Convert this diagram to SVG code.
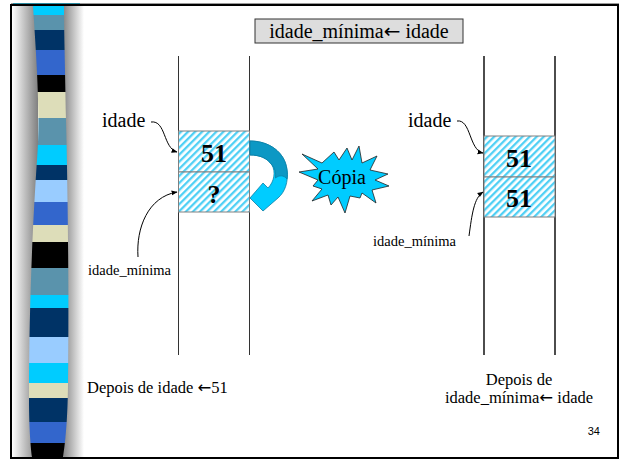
<svg xmlns="http://www.w3.org/2000/svg" width="620" height="461" viewBox="0 0 620 461">
<defs>
<style>
.serif{font-family:"Liberation Serif","Times New Roman",serif;fill:#000}
.arr{font-family:"DejaVu Sans",sans-serif;font-weight:normal}
.lbl{font-size:20px}
.small{font-size:14.5px}
.val{font-size:26px;font-weight:bold;text-anchor:middle}
.bot{font-size:16.5px}
.cell{fill:url(#hatch);stroke:#808080;stroke-width:1}
.conn{fill:none;stroke:#000;stroke-width:1;marker-end:url(#ah)}
.vl{stroke:#333;stroke-width:1}
.vr{stroke:#000;stroke-width:1.4}
</style>
<pattern id="hatch" patternUnits="userSpaceOnUse" width="5" height="5" patternTransform="rotate(45)">
<rect width="5" height="5" fill="#fff"/>
<rect width="2.3" height="5" fill="#4FD0F5"/>
</pattern>
<marker id="ah" viewBox="0 0 10 10" refX="9" refY="5" markerWidth="6" markerHeight="6" orient="auto">
<path d="M0,1 L10,5 L0,9 Z" fill="#000"/>
</marker>
<linearGradient id="shL" x1="0" y1="0" x2="1" y2="0">
<stop offset="0" stop-color="#fff"/>
<stop offset="1" stop-color="#808080"/>
</linearGradient>
<linearGradient id="shR" x1="0" y1="0" x2="1" y2="0">
<stop offset="0" stop-color="#808080"/>
<stop offset="1" stop-color="#fff"/>
</linearGradient>
<clipPath id="barClip">
<path d="M33,6 C38,80 40,120 37,160 C33,220 29,300 29,400 C29,430 31,450 32,457 L63,457 C66,440 68,410 68,380 C69,300 68,200 66,120 C65,60 64,30 64,6 Z"/>
</clipPath>
</defs>
<rect width="620" height="461" fill="#fff"/>

<g id="side-bar">
<rect x="12" y="6" width="26" height="452" fill="url(#shL)"/>
<rect x="62" y="6" width="22" height="452" fill="url(#shR)"/>
<g clip-path="url(#barClip)">
<rect x="20" y="5" width="60" height="10" fill="#00CCFF"/>
<rect x="20" y="15" width="60" height="15" fill="#5A93AC"/>
<rect x="20" y="30" width="60" height="20" fill="#003366"/>
<rect x="20" y="50" width="60" height="25" fill="#3366CC"/>
<rect x="20" y="75" width="60" height="17" fill="#000"/>
<rect x="20" y="92" width="60" height="26" fill="#DDDDB9"/>
<rect x="20" y="118" width="60" height="27" fill="#5A93AC"/>
<rect x="20" y="145" width="60" height="20" fill="#00CCFF"/>
<rect x="20" y="165" width="60" height="15" fill="#003366"/>
<rect x="20" y="180" width="60" height="22" fill="#99CCFF"/>
<rect x="20" y="202" width="60" height="23" fill="#3366CC"/>
<rect x="20" y="225" width="60" height="17" fill="#DDDDB9"/>
<rect x="20" y="242" width="60" height="26" fill="#000"/>
<rect x="20" y="268" width="60" height="27" fill="#5A93AC"/>
<rect x="20" y="295" width="60" height="13" fill="#00CCFF"/>
<rect x="20" y="308" width="60" height="29" fill="#003366"/>
<rect x="20" y="337" width="60" height="26" fill="#99CCFF"/>
<rect x="20" y="363" width="60" height="20" fill="#00CCFF"/>
<rect x="20" y="383" width="60" height="15" fill="#DDDDB9"/>
<rect x="20" y="398" width="60" height="24" fill="#003366"/>
<rect x="20" y="422" width="60" height="21" fill="#3366CC"/>
<rect x="20" y="443" width="60" height="16" fill="#000"/>
</g>
</g>

<g id="frame">
<line x1="11" y1="3.5" x2="619" y2="3.5" stroke="#999" stroke-width="1"/>
<line x1="13" y1="3.5" x2="80" y2="3.5" stroke="#2a8aa0" stroke-width="1"/>
<rect x="11" y="5" width="607" height="453" fill="none" stroke="#000" stroke-width="2"/>
</g>

<g id="title">
<rect x="255" y="19" width="208" height="24" fill="#DDDDDD" stroke="#333" stroke-width="1"/>
<text class="serif lbl" x="359" y="38" text-anchor="middle">idade_mínima<tspan class="arr">←</tspan> idade</text>
</g>

<g id="memory-left">
<line class="vl" x1="178.5" y1="56" x2="178.5" y2="355"/>
<line class="vl" x1="249.5" y1="56" x2="249.5" y2="355"/>
</g>
<g id="memory-right">
<line class="vr" x1="484" y1="56" x2="484" y2="355"/>
<line class="vr" x1="555" y1="56" x2="555" y2="355"/>
</g>

<g id="cell-left-idade">
<rect class="cell" x="178.5" y="131" width="71" height="41"/>
<text class="serif val" x="214" y="162">51</text>
</g>
<g id="cell-left-idade-minima">
<rect class="cell" x="178.5" y="172" width="71" height="40"/>
<text class="serif val" x="214" y="203">?</text>
</g>
<g id="cell-right-idade">
<rect class="cell" x="484" y="136" width="71" height="41"/>
<text class="serif val" x="519" y="167">51</text>
</g>
<g id="cell-right-idade-minima">
<rect class="cell" x="484" y="177" width="71" height="40"/>
<text class="serif val" x="519" y="207">51</text>
</g>

<g id="label-left-idade"><text class="serif lbl" x="102" y="127">idade</text></g>
<g id="label-left-idade-minima"><text class="serif small" x="88" y="275">idade_mínima</text></g>
<g id="label-right-idade"><text class="serif lbl" x="408" y="127">idade</text></g>
<g id="label-right-idade-minima"><text class="serif small" x="373" y="246">idade_mínima</text></g>

<g id="copy-arrow">
<path d="M250,141 C269,141 285,152 287,170 C288.5,182 285,192 278,198 L263,211 L250,198 L263,183 L268,188 C274,182 276,172 272,165 C267,158 260,155 250,155 Z" fill="#00CCFF" stroke="#0A7FA6" stroke-width="0.8"/>
<path d="M250,141 C269,141 285,152 287,170 C287.5,173 287.5,176 287,179 C284,175 279,175 275.5,178 C276,173 275,168 272,165 C267,158 260,155 250,155 Z" fill="#0C98C4" stroke="#0A7FA6" stroke-width="0.8"/>
</g>

<g id="copy-burst">
<polygon points="302,154 322,163 334,152 339,160 347,148 352,160 359,146 362,163 377,156 370,170 388,174 375,180 389,186 372,190 376,203 362,193 360,198 350,196 345,213 338,197 331,205 328,195 312,201 322,189 313,186 318,180 299,172 318,169" fill="#00CCFF" stroke="#222" stroke-width="0.8" stroke-linejoin="miter"/>
<text class="serif lbl" x="342" y="184" text-anchor="middle">Cópia</text>
</g>

<g id="connectors">
<path class="conn" d="M151,122 C166,120 163,148 177,152"/>
<path class="conn" d="M138,257 C136,228 148,197 177,192"/>
<path class="conn" d="M457,121 C471,119 469,150 483,153"/>
<path class="conn" d="M469,236 C472,214 474,198 483,192"/>
</g>

<g id="captions">
<text class="serif bot" x="87" y="393">Depois de idade <tspan class="arr">←</tspan>51</text>
<text class="serif bot" x="519" y="385" text-anchor="middle">Depois de</text>
<text class="serif bot" x="519" y="403" text-anchor="middle">idade_mínima<tspan class="arr">←</tspan> idade</text>
<text x="600" y="435" text-anchor="end" style="font-family:'Liberation Sans',Arial,sans-serif;font-size:11px;fill:#000">34</text>
</g>
</svg>
